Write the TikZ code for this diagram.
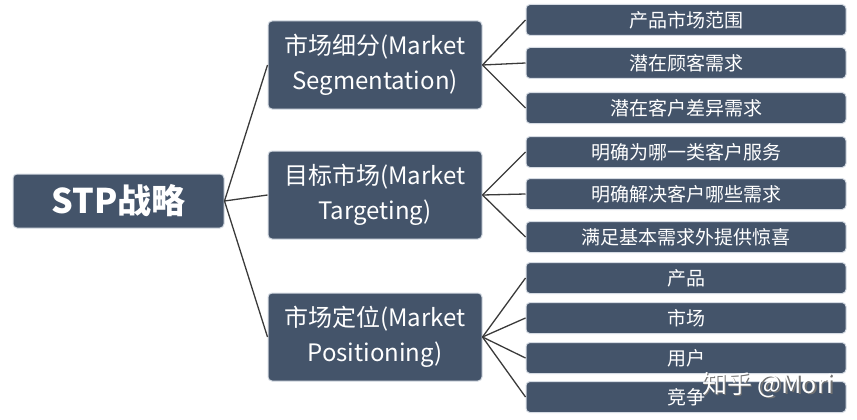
\documentclass[tikz,border=0pt]{standalone}
\usepackage{fontspec}
\setmainfont{Noto Sans CJK SC}

\definecolor{boxblue}{HTML}{44546A}
\definecolor{boxrim}{HTML}{D5DBE3}
\definecolor{linegray}{HTML}{3A3A3A}

\tikzset{
    box/.style={rectangle, fill=boxblue, draw=boxrim, line width=1pt, rounded corners=4pt, text=white, inner sep=0pt, align=center},
    rootbox/.style={box, minimum width=211pt, minimum height=54pt, font=\fontsize{34}{40}\selectfont\bfseries},
    midbox/.style={box, minimum width=214pt, minimum height=88pt, font=\fontsize{24}{35}\selectfont},
    leafbox/.style={box, minimum width=320pt, minimum height=31pt, font=\fontsize{19}{22}\selectfont},
    link/.style={draw=linegray, line width=1.3pt}
}

\begin{document}
\begin{tikzpicture}[x=1pt, y=-1pt]
            \useasboundingbox (0,0) rectangle (857,420);

            \node[rootbox] (stp) at (118.5,201) {STP战略};

            \node[midbox] (seg) at (375,65) {市场细分(Market\\Segmentation)};
            \node[midbox] (tar) at (375,195) {目标市场(Market\\Targeting)};
            \node[midbox] (pos) at (375,337) {市场定位(Market\\Positioning)};

            \node[leafbox] (scope) at (686,20) {产品市场范围};
            \node[leafbox] (need) at (686,63) {潜在顾客需求};
            \node[leafbox] (diff) at (686,108) {潜在客户差异需求};

            \node[leafbox] (whom) at (686,152) {明确为哪一类客户服务};
            \node[leafbox] (which) at (686,194) {明确解决客户哪些需求};
            \node[leafbox] (extra) at (686,237) {满足基本需求外提供惊喜};

            \node[leafbox] (prod) at (686,278) {产品};
            \node[leafbox] (mkt) at (686,318) {市场};
            \node[leafbox] (user) at (686,358) {用户};
            \node[leafbox] (comp) at (686,397) {竞争};

            % root to the three steps
            \draw[link] (stp.east) -- (seg.west);
            \draw[link] (stp.east) -- (tar.west);
            \draw[link] (stp.east) -- (pos.west);

            % steps to their items
            \draw[link] (seg.east) -- (scope.west);
            \draw[link] (seg.east) -- (need.west);
            \draw[link] (seg.east) -- (diff.west);

            \draw[link] (tar.east) -- (whom.west);
            \draw[link] (tar.east) -- (which.west);
            \draw[link] (tar.east) -- (extra.west);

            \draw[link] (pos.east) -- (prod.west);
            \draw[link] (pos.east) -- (mkt.west);
            \draw[link] (pos.east) -- (user.west);
            \draw[link] (pos.east) -- (comp.west);

            % watermark
            \node[text=black!55, font=\fontsize{25}{28}\selectfont] (markshade) at (769.5,386.5) {知乎 @Mori};
            \node[text=white, font=\fontsize{25}{28}\selectfont] (mark) at (768,385) {知乎 @Mori};
        \end{tikzpicture}
\end{document}
